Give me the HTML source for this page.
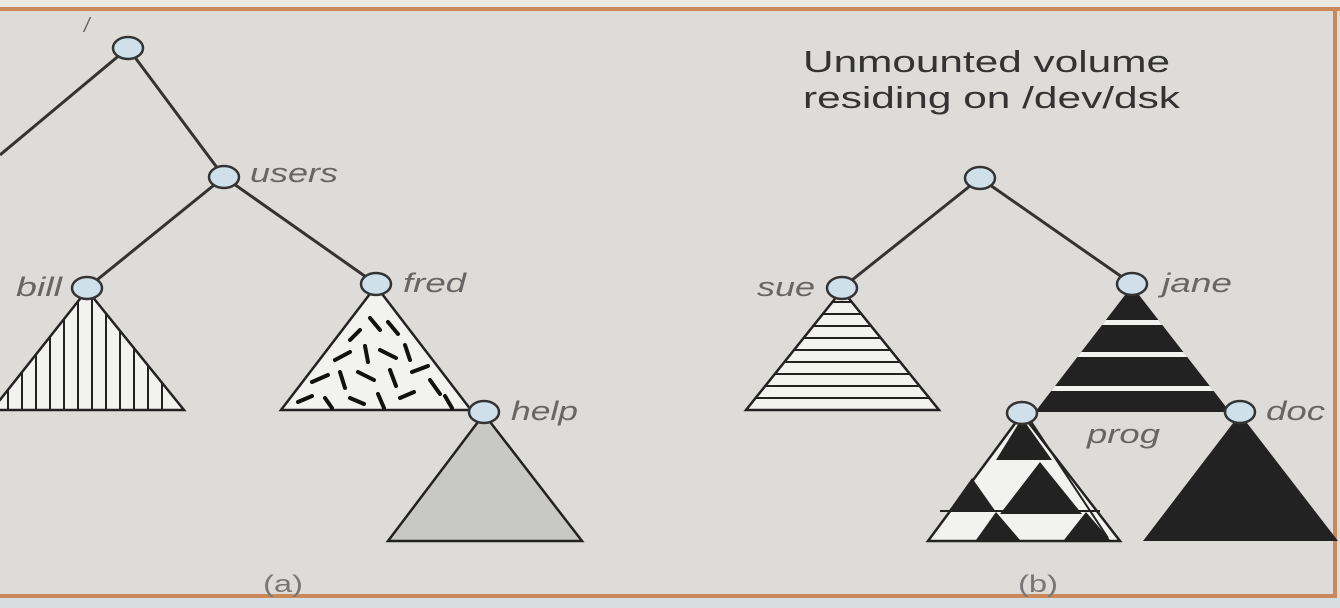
<!DOCTYPE html>
<html><head><meta charset="utf-8"><style>
html,body{margin:0;padding:0;width:1340px;height:608px;overflow:hidden;background:#dddcd8}
svg{display:block}
text{font-family:"Liberation Sans",sans-serif}
</style></head><body>
<svg width="1340" height="608" viewBox="0 0 1340 608">
<defs>
<clipPath id="billClip"><polygon points="87,290 -8,410 184,410"/></clipPath>
<clipPath id="sueClip"><polygon points="842,290 746,410 939,410"/></clipPath>
<clipPath id="fredClip"><polygon points="376,286 281,410 471,410"/></clipPath>
<clipPath id="janeClip"><polygon points="1132,286 1035,412 1230,412"/></clipPath>
</defs>
<rect x="0" y="0" width="1340" height="608" fill="#dddcd8"/>
<rect x="0" y="0" width="1340" height="8" fill="#ece8e2"/>
<rect x="0" y="598" width="1340" height="10" fill="#d6dee4"/>
<line x1="0" y1="9" x2="1340" y2="9" stroke="#c9895a" stroke-width="4"/>
<line x1="0" y1="596" x2="1336" y2="596" stroke="#c9895a" stroke-width="4"/>
<line x1="1335" y1="9" x2="1335" y2="598" stroke="#c9895a" stroke-width="4"/>

<g stroke="#333" stroke-width="3" fill="none">
<line x1="128" y1="48" x2="0" y2="155"/>
<line x1="128" y1="48" x2="224" y2="177"/>
<line x1="224" y1="177" x2="87" y2="288"/>
<line x1="224" y1="177" x2="376" y2="284"/>
<line x1="980" y1="178" x2="842" y2="288"/>
<line x1="980" y1="178" x2="1132" y2="284"/>
</g>
<text x="84" y="32" font-size="20" fill="#666" font-style="italic">/</text>

<g>
<polygon points="87,290 -8,410 184,410" fill="#f2f2f0" stroke="#222" stroke-width="2.5"/>
<g clip-path="url(#billClip)" stroke="#222" stroke-width="2">
<line x1="8" y1="280" x2="8" y2="410"/><line x1="22" y1="280" x2="22" y2="410"/><line x1="36" y1="280" x2="36" y2="410"/><line x1="50" y1="280" x2="50" y2="410"/><line x1="64" y1="280" x2="64" y2="410"/><line x1="78" y1="280" x2="78" y2="410"/><line x1="92" y1="280" x2="92" y2="410"/><line x1="106" y1="280" x2="106" y2="410"/><line x1="120" y1="280" x2="120" y2="410"/><line x1="134" y1="280" x2="134" y2="410"/><line x1="148" y1="280" x2="148" y2="410"/><line x1="162" y1="280" x2="162" y2="410"/>
</g></g>

<g>
<polygon points="376,286 281,410 471,410" fill="#f2f2f0" stroke="#222" stroke-width="2.5"/>
<g clip-path="url(#fredClip)" stroke="#111" stroke-width="4" stroke-linecap="round">
<line x1="370" y1="318" x2="380" y2="330"/><line x1="388" y1="322" x2="398" y2="334"/><line x1="350" y1="340" x2="360" y2="330"/>
<line x1="335" y1="360" x2="350" y2="352"/><line x1="365" y1="346" x2="368" y2="362"/><line x1="380" y1="350" x2="396" y2="358"/><line x1="405" y1="345" x2="410" y2="360"/>
<line x1="312" y1="382" x2="328" y2="375"/><line x1="340" y1="372" x2="345" y2="388"/><line x1="358" y1="372" x2="374" y2="380"/><line x1="390" y1="370" x2="396" y2="386"/><line x1="412" y1="372" x2="428" y2="366"/><line x1="430" y1="380" x2="440" y2="394"/>
<line x1="298" y1="402" x2="312" y2="396"/><line x1="325" y1="398" x2="332" y2="408"/><line x1="350" y1="398" x2="364" y2="404"/><line x1="378" y1="394" x2="384" y2="408"/><line x1="400" y1="398" x2="414" y2="392"/><line x1="445" y1="396" x2="452" y2="408"/>
</g></g>

<g>
<polygon points="484,414 388,541 582,541" fill="#c8c8c4" stroke="#222" stroke-width="2.5"/>
</g>

<g>
<polygon points="842,290 746,410 939,410" fill="#f2f2f0" stroke="#222" stroke-width="2.5"/>
<g clip-path="url(#sueClip)" stroke="#222" stroke-width="2">
<line x1="700" y1="302" x2="1000" y2="302"/><line x1="700" y1="314" x2="1000" y2="314"/><line x1="700" y1="326" x2="1000" y2="326"/><line x1="700" y1="338" x2="1000" y2="338"/><line x1="700" y1="350" x2="1000" y2="350"/><line x1="700" y1="362" x2="1000" y2="362"/><line x1="700" y1="374" x2="1000" y2="374"/><line x1="700" y1="386" x2="1000" y2="386"/><line x1="700" y1="398" x2="1000" y2="398"/>
</g></g>

<g>
<polygon points="1132,286 1035,412 1230,412" fill="#222"/>
<g clip-path="url(#janeClip)" fill="#f2f2f0">
<rect x="1000" y="320" width="260" height="5"/><rect x="1000" y="352" width="260" height="5"/><rect x="1000" y="386" width="260" height="5"/>
</g></g>

<g>
<polygon points="1022,414 928,541 1120,541" fill="#f2f2f0" stroke="#222" stroke-width="2.5"/>
<polygon points="1022,418 996,460 1052,460" fill="#222"/>
<polygon points="1040,462 1000,514 1082,514" fill="#222"/>
<polygon points="972,478 948,512 996,512" fill="#222"/>
<polygon points="996,512 976,540 1020,540" fill="#222"/>
<polygon points="1086,512 1064,540 1110,540" fill="#222"/>
<line x1="1030" y1="420" x2="1108" y2="538" stroke="#222" stroke-width="2"/>
<line x1="940" y1="511" x2="1100" y2="511" stroke="#222" stroke-width="2"/>
</g>

<g>
<polygon points="1240,414 1143,541 1338,541" fill="#222"/>
</g>

<g fill="#cfe0ea" stroke="#333" stroke-width="2.5">
<ellipse cx="128" cy="48" rx="15" ry="11"/>
<ellipse cx="224" cy="177" rx="15" ry="11"/>
<ellipse cx="87" cy="288" rx="15" ry="11"/>
<ellipse cx="376" cy="284" rx="15" ry="11"/>
<ellipse cx="484" cy="412" rx="15" ry="11"/>
<ellipse cx="980" cy="178" rx="15" ry="11"/>
<ellipse cx="842" cy="288" rx="15" ry="11"/>
<ellipse cx="1132" cy="284" rx="15" ry="11"/>
<ellipse cx="1022" cy="413" rx="15" ry="11"/>
<ellipse cx="1240" cy="412" rx="15" ry="11"/>
</g>

<g fill="#666" font-size="27" font-style="italic">
<text x="250" y="182" textLength="88" lengthAdjust="spacingAndGlyphs">users</text>
<text x="16" y="296" textLength="46" lengthAdjust="spacingAndGlyphs">bill</text>
<text x="403" y="292" textLength="63" lengthAdjust="spacingAndGlyphs">fred</text>
<text x="511" y="420" textLength="67" lengthAdjust="spacingAndGlyphs">help</text>
<text x="757" y="296" textLength="58" lengthAdjust="spacingAndGlyphs">sue</text>
<text x="1162" y="292" textLength="70" lengthAdjust="spacingAndGlyphs">jane</text>
<text x="1087" y="443" textLength="73" lengthAdjust="spacingAndGlyphs">prog</text>
<text x="1266" y="420" textLength="59" lengthAdjust="spacingAndGlyphs">doc</text>
</g>
<g fill="#333" font-size="31">
<text x="803" y="72" textLength="367" lengthAdjust="spacingAndGlyphs">Unmounted volume</text>
<text x="803" y="108" textLength="377" lengthAdjust="spacingAndGlyphs">residing on /dev/dsk</text>
</g>
<g fill="#777" font-size="24">
<text x="263" y="592" textLength="40" lengthAdjust="spacingAndGlyphs">(a)</text>
<text x="1018" y="592" textLength="40" lengthAdjust="spacingAndGlyphs">(b)</text>
</g>
</svg>
</body></html>
